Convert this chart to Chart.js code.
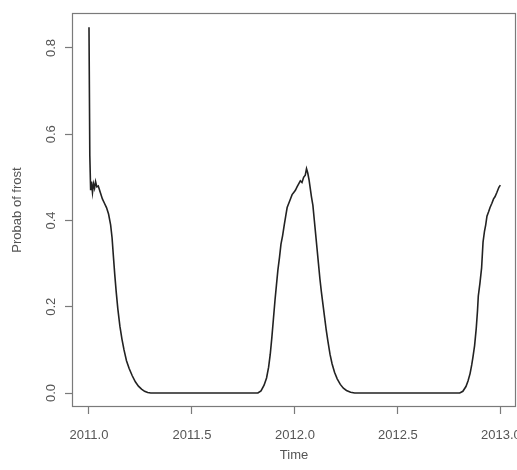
<!DOCTYPE html>
<html>
<head>
<meta charset="utf-8">
<script src="https://cdn.jsdelivr.net/npm/chart.js@4/dist/chart.umd.min.js"></script>
<style>
  html, body { margin: 0; padding: 0; background: #fff; }
  #wrap { width: 517px; height: 470px; }
</style>
</head>
<body>
<div id="wrap"><canvas id="c" width="517" height="470"></canvas></div>
<script>
// ── datos ───────────────────────────────────────────────────────────────────
const TIMES = [
  2011.000, 2011.004, 2011.008, 2011.012, 2011.017, 2011.022, 2011.027, 2011.032, 2011.038, 2011.045,
  2011.055, 2011.065, 2011.075, 2011.085, 2011.095, 2011.105, 2011.112, 2011.118, 2011.125, 2011.132,
  2011.140, 2011.150, 2011.160, 2011.170, 2011.182, 2011.195, 2011.210, 2011.225, 2011.240, 2011.255,
  2011.270, 2011.285, 2011.300, 2011.820, 2011.835, 2011.850, 2011.862, 2011.872, 2011.880, 2011.888,
  2011.895, 2011.903, 2011.910, 2011.917, 2011.925, 2011.932, 2011.940, 2011.948, 2011.955, 2011.962,
  2011.970, 2011.978, 2011.986, 2011.994, 2012.002, 2012.010, 2012.018, 2012.026, 2012.034, 2012.042,
  2012.050, 2012.056, 2012.062, 2012.068, 2012.074, 2012.080, 2012.087, 2012.094, 2012.100, 2012.107,
  2012.114, 2012.121, 2012.128, 2012.136, 2012.144, 2012.152, 2012.160, 2012.170, 2012.180, 2012.192,
  2012.205, 2012.220, 2012.235, 2012.250, 2012.270, 2012.290, 2012.800, 2012.815, 2012.830, 2012.840,
  2012.850, 2012.858, 2012.864, 2012.872, 2012.880, 2012.886, 2012.890, 2012.898, 2012.906, 2012.913,
  2012.920, 2012.926, 2012.932, 2012.940, 2012.947, 2012.956, 2012.964, 2012.971, 2012.980, 2012.990,
  2012.997,
];
const PROBS = [
  0.848, 0.55, 0.47, 0.49, 0.465, 0.485, 0.475, 0.49, 0.478, 0.48,
  0.465, 0.45, 0.44, 0.43, 0.415, 0.39, 0.36, 0.32, 0.275, 0.235,
  0.195, 0.155, 0.125, 0.10, 0.075, 0.057, 0.04, 0.026, 0.016, 0.009,
  0.004, 0.001, 0, 0, 0.005, 0.018, 0.035, 0.06, 0.09, 0.13,
  0.17, 0.215, 0.25, 0.285, 0.315, 0.345, 0.365, 0.39, 0.41, 0.43,
  0.44, 0.45, 0.46, 0.465, 0.47, 0.478, 0.485, 0.492, 0.488, 0.50,
  0.505, 0.52, 0.51, 0.495, 0.475, 0.455, 0.435, 0.40, 0.37, 0.335,
  0.30, 0.265, 0.235, 0.205, 0.175, 0.145, 0.12, 0.09, 0.068, 0.048,
  0.033, 0.02, 0.011, 0.006, 0.002, 0, 0, 0.004, 0.015, 0.028,
  0.045, 0.065, 0.083, 0.11, 0.15, 0.19, 0.225, 0.255, 0.29, 0.35,
  0.375, 0.39, 0.41, 0.42, 0.43, 0.44, 0.45, 0.455, 0.465, 0.477,
  0.482,
];
const X_TICKS = [2011, 2011.5, 2012, 2012.5, 2013];
const Y_TICKS = [0, 0.2, 0.4, 0.6, 0.8];
const X_TITLE = 'Time';
const Y_TITLE = 'Probab of frost';

const FONT = { family: "'Liberation Sans', Arial, sans-serif", size: 13 };
const TXT = '#555';
const AXIS = '#7a7a7a';

// caja alrededor del área del gráfico (estilo R)
const boxPlugin = {
  id: 'box',
  afterDraw(chart) {
    const { ctx, chartArea: a } = chart;
    ctx.save();
    ctx.strokeStyle = AXIS;
    ctx.lineWidth = 1.2;
    ctx.strokeRect(Math.round(a.left) + 0.5, Math.round(a.top) + 0.5,
      Math.round(a.right - a.left) - 1, Math.round(a.bottom - a.top) - 1);
    ctx.restore();
  },
};

const gridOpts = { display: true, drawOnChartArea: false, drawTicks: true, tickLength: 7, tickColor: AXIS, tickWidth: 1.2 };

new Chart(document.getElementById('c'), {
  type: 'line',
  data: {
    datasets: [{
      data: TIMES.map((t, i) => ({ x: t, y: PROBS[i] })),
      borderColor: '#222',
      borderWidth: 1.6,
      pointRadius: 0,
      tension: 0,
      fill: false,
    }],
  },
  options: {
    responsive: false,
    animation: false,
    layout: { padding: { top: 13, right: 1, left: 0, bottom: 0 } },
    plugins: { legend: { display: false }, tooltip: { enabled: false } },
    scales: {
      x: {
        type: 'linear',
        min: 2010.9175,
        max: 2013.073,
        afterBuildTicks: s => { s.ticks = X_TICKS.map(v => ({ value: v })); },
        afterFit: s => { s.height = 63; s.paddingLeft = 0; s.paddingRight = 0; },
        grid: gridOpts,
        border: { display: false },
        ticks: { font: FONT, color: TXT, padding: 14, maxRotation: 0, autoSkip: false, callback: v => v.toFixed(1) },
        title: { display: true, text: X_TITLE, font: FONT, color: TXT, padding: { top: 0, bottom: 7 } },
      },
      y: {
        type: 'linear',
        min: -0.0324,
        max: 0.881,
        afterBuildTicks: s => { s.ticks = Y_TICKS.map(v => ({ value: v })); },
        afterFit: s => { s.width = 72; s.paddingTop = 0; s.paddingBottom = 0; },
        grid: gridOpts,
        border: { display: false },
        ticks: { font: FONT, color: TXT, padding: 5, minRotation: 90, maxRotation: 90, crossAlign: 'center', autoSkip: false, callback: v => v.toFixed(1) },
        title: { display: true, text: Y_TITLE, font: FONT, color: TXT, padding: { top: 10, bottom: 0 } },
      },
    },
  },
  plugins: [boxPlugin],
});
</script>
</body>
</html>
